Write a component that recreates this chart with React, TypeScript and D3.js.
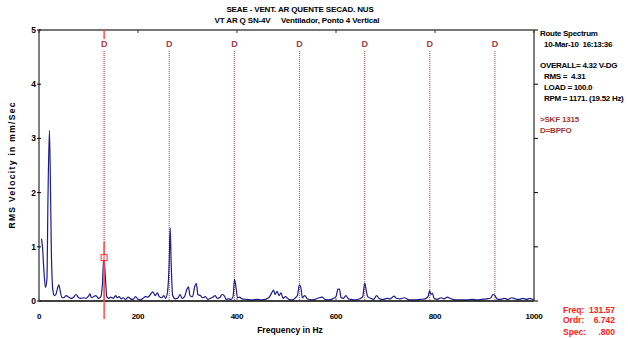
import * as React from 'react';
import * as d3 from 'd3';

// spectrum points: [Hz, mm/s]
const spectrum: [number, number][] = [
	[5, 1.15], [7, 1.0], [10, 0.55], [13, 0.25], [16, 0.4], [18, 1.8], [21, 3.15], [23, 2.2], [25, 0.9],
	[28, 0.2], [31, 0.1], [34, 0.12], [37, 0.22], [40, 0.3], [43, 0.18], [46, 0.07], [50, 0.06], [55, 0.1],
	[60, 0.07], [65, 0.05], [70, 0.07], [75, 0.12], [80, 0.06], [85, 0.05], [90, 0.06], [95, 0.05],
	[100, 0.09], [103, 0.13], [106, 0.06], [110, 0.08], [115, 0.1], [120, 0.05], [125, 0.08], [128, 0.3],
	[131, 0.8], [134, 0.45], [137, 0.08], [141, 0.05], [145, 0.07], [150, 0.05], [155, 0.1], [158, 0.06],
	[162, 0.08], [166, 0.04], [170, 0.06], [175, 0.03], [180, 0.07], [185, 0.04], [190, 0.03], [195, 0.08],
	[200, 0.03], [205, 0.02], [210, 0.05], [215, 0.08], [220, 0.07], [225, 0.12], [230, 0.17], [235, 0.1],
	[239, 0.15], [243, 0.08], [248, 0.06], [252, 0.1], [256, 0.05], [260, 0.2], [263, 0.7], [265, 1.35],
	[267, 0.7], [270, 0.1], [275, 0.04], [280, 0.05], [285, 0.12], [289, 0.05], [294, 0.08], [299, 0.22],
	[302, 0.26], [305, 0.1], [310, 0.08], [315, 0.28], [318, 0.32], [321, 0.12], [326, 0.1], [331, 0.06],
	[336, 0.08], [341, 0.03], [346, 0.05], [351, 0.07], [356, 0.1], [360, 0.05], [365, 0.06], [370, 0.12],
	[374, 0.1], [378, 0.03], [383, 0.04], [388, 0.03], [392, 0.08], [395, 0.4], [398, 0.25], [401, 0.06],
	[405, 0.07], [410, 0.04], [420, 0.03], [430, 0.02], [440, 0.03], [450, 0.02], [460, 0.04], [466, 0.08],
	[470, 0.15], [474, 0.2], [477, 0.12], [481, 0.18], [485, 0.1], [489, 0.15], [493, 0.05], [498, 0.08],
	[505, 0.03], [512, 0.02], [518, 0.06], [522, 0.1], [526, 0.3], [529, 0.25], [532, 0.06], [537, 0.1],
	[542, 0.04], [550, 0.02], [558, 0.03], [566, 0.06], [572, 0.07], [578, 0.03], [585, 0.02], [593, 0.04],
	[600, 0.08], [604, 0.22], [607, 0.22], [610, 0.07], [615, 0.05], [620, 0.1], [625, 0.04], [630, 0.03],
	[640, 0.02], [648, 0.04], [654, 0.08], [658, 0.33], [661, 0.2], [664, 0.08], [670, 0.05], [676, 0.03],
	[682, 0.1], [688, 0.04], [695, 0.03], [703, 0.05], [710, 0.04], [717, 0.09], [722, 0.05], [730, 0.04],
	[738, 0.06], [745, 0.03], [752, 0.02], [760, 0.02], [770, 0.03], [780, 0.04], [786, 0.08], [789, 0.19],
	[792, 0.12], [795, 0.14], [798, 0.05], [805, 0.03], [812, 0.06], [818, 0.04], [825, 0.07], [830, 0.05],
	[836, 0.03], [845, 0.02], [855, 0.02], [865, 0.02], [875, 0.03], [885, 0.02], [895, 0.03], [905, 0.04],
	[912, 0.05], [917, 0.12], [921, 0.1], [925, 0.04], [932, 0.03], [940, 0.05], [948, 0.03], [955, 0.06],
	[962, 0.04], [970, 0.03], [978, 0.05], [985, 0.03], [992, 0.05], [997, 0.03], [1000, 0.02]
];

const xTicks = [0, 200, 400, 600, 800, 1000];
const yTicks = [0, 1, 2, 3, 4, 5];
const bpfoHz = 131.57;
const bpfoOrders = [1, 2, 3, 4, 5, 6, 7];
const cursorAmp = 0.8;

const titleLines = ['SEAE - VENT. AR QUENTE SECAD. NUS', 'VT AR Q SN-4V     Ventilador, Ponto 4 Vertical'];
const infoLines = [
	{ text: 'Route Spectrum', dx: 0, dy: 0 },
	{ text: '10-Mar-10  16:13:36', dx: 4, dy: 11 },
	{ text: 'OVERALL= 4.32 V-DG', dx: 0, dy: 32 },
	{ text: 'RMS =  4.31', dx: 4, dy: 43 },
	{ text: 'LOAD = 100.0', dx: 4, dy: 54 },
	{ text: 'RPM = 1171. (19.52 Hz)', dx: 4, dy: 65 }
];
const faultLines = ['>SKF 1315', 'D=BPFO'];
const cursorLines = [
	['Freq:', '131.57'],
	['Ordr:', '6.742'],
	['Spec:', '.800']
];

const W = 628;
const H = 338;
const margin = { top: 30, right: 95, bottom: 37, left: 39 };
const font = 'Arial, "Liberation Sans", sans-serif';
const pre: React.CSSProperties = { whiteSpace: 'pre' };

export default function App() {
	const x = d3.scaleLinear().domain([0, 1000]).range([margin.left, W - margin.right + 1]);
	const y = d3.scaleLinear().domain([0, 5]).range([H - margin.bottom, margin.top]);

	const line = d3
		.line<[number, number]>()
		.x((d) => x(d[0]))
		.y((d) => y(d[1]))
		.curve(d3.curveMonotoneX);

	const x0 = x(0);
	const x1 = x(1000);
	const y0 = y(0);
	const y1 = y(5);
	const cx = x(bpfoHz);
	const cy = y(cursorAmp);

	return (
		<svg
			width={W}
			height={H}
			style={{ position: 'absolute', left: 0, top: 0, background: '#fff' }}
			fontFamily={font}
			fontWeight="bold"
		>
			{/* titles */}
			{titleLines.map((t, i) => (
				<text
					key={t}
					x={i === 0 ? 300 : 297}
					y={12 + i * 11}
					fontSize={8}
					letterSpacing={-0.15}
					textAnchor="middle"
					fill="#000"
					style={pre}
				>
					{t}
				</text>
			))}

			{/* BPFO fault lines */}
			{bpfoOrders.map((k) => {
				const fx = x(bpfoHz * k);
				return (
					<g key={k}>
						<text x={fx} y={47} fontSize={9} textAnchor="middle" fill="#a04048">
							D
						</text>
						<line
							x1={fx}
							x2={fx}
							y1={51}
							y2={y0}
							stroke={k === 1 ? '#d03838' : '#a86068'}
							strokeWidth={1.2}
							strokeDasharray="1,1"
						/>
					</g>
				);
			})}

			{/* spectrum */}
			<path d={line(spectrum) || ''} fill="none" stroke="#1c1c8a" strokeWidth={1.2} />

			{/* frame */}
			<line x1={x0} x2={x1} y1={y1} y2={y1} stroke="#777" strokeWidth={2} />
			<line x1={x0} x2={x1} y1={y0} y2={y0} stroke="#000" strokeWidth={1.5} />
			<line x1={x0} x2={x0} y1={y1} y2={y0} stroke="#000" strokeWidth={1} />
			<line x1={x1} x2={x1} y1={y1} y2={y0} stroke="#000" strokeWidth={1} />

			{/* cursor */}
			<line x1={cx} x2={cx} y1={y1} y2={y1 + 9} stroke="#ff4a4a" strokeWidth={1.5} />
			<line x1={cx} x2={cx} y1={cy - 16} y2={y0 + 18} stroke="#ff4a4a" strokeWidth={1.5} />
			<rect x={cx - 3} y={cy - 3} width={6} height={6} fill="#fff" fillOpacity={0.4} stroke="#ff3030" strokeWidth={1} />

			{/* y ticks */}
			{yTicks.map((v) => (
				<g key={v}>
					<line x1={x0 - 2} x2={x0 + 2} y1={y(v)} y2={y(v)} stroke="#000" />
					<line x1={x1} x2={x1 + 4} y1={y(v)} y2={y(v)} stroke="#000" />
					<text x={x0 - 3} y={y(v) + 3} fontSize={8.5} textAnchor="end" fill="#000">
						{v}
					</text>
				</g>
			))}
			<text
				transform={`translate(15,${(y0 + y1) / 2}) rotate(-90)`}
				fontSize={8.5}
				textAnchor="middle"
				textLength={126}
				lengthAdjust="spacing"
				fill="#000"
			>
				RMS Velocity in mm/Sec
			</text>

			{/* x ticks */}
			{xTicks.map((v) => (
				<g key={v}>
					<line x1={x(v)} x2={x(v)} y1={y0} y2={y0 - 3} stroke="#666" />
					<line x1={x(v)} x2={x(v)} y1={y1} y2={y1 + 3} stroke="#333" />
					<text x={x(v)} y={y0 + 18} fontSize={8} letterSpacing={-0.2} textAnchor="middle" fill="#000">
						{v}
					</text>
				</g>
			))}
			<text x={290} y={y0 + 32} fontSize={8.5} textAnchor="middle" fill="#000">
				Frequency in Hz
			</text>

			{/* info panel */}
			{infoLines.map((l) => (
				<text
					key={l.text}
					x={540 + l.dx}
					y={36 + l.dy}
					fontSize={8}
					letterSpacing={-0.3}
					fill="#000"
					style={pre}
				>
					{l.text}
				</text>
			))}
			{faultLines.map((t, i) => (
				<text key={t} x={540} y={122 + i * 11} fontSize={8} letterSpacing={-0.2} fill="#a03838">
					{t}
				</text>
			))}
			{cursorLines.map((c, i) => (
				<g key={c[0]}>
					<text x={563} y={313 + i * 10 + (i === 2 ? 2 : 0)} fontSize={8.5} fill="#ff2020">
						{c[0]}
					</text>
					<text x={615} y={313 + i * 10 + (i === 2 ? 2 : 0)} fontSize={8.5} fill="#ff2020" textAnchor="end">
						{c[1]}
					</text>
				</g>
			))}
		</svg>
	);
}
